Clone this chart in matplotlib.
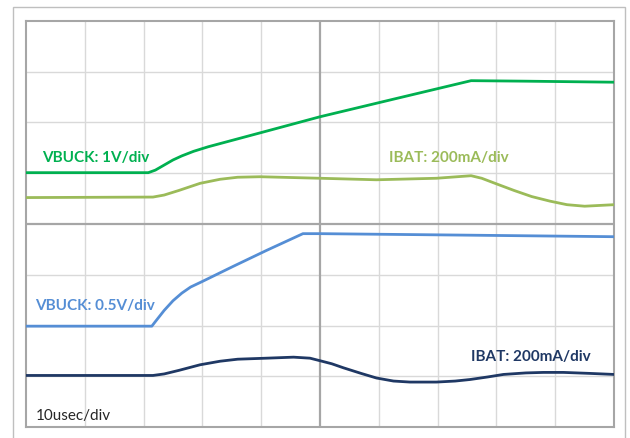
import matplotlib
matplotlib.use("Agg")
import matplotlib.pyplot as plt
from matplotlib.patches import Rectangle

# =====================================
# Traces, in scope divisions (10 x 8 grid)
# =====================================
vbuck1_t = [0.0, 2.08, 2.2, 2.35, 2.5, 2.65, 2.85, 3.1, 4.1, 5.0, 6.3, 7.57, 8.5, 10.0]
vbuck1_v = [5.01, 5.01, 5.06, 5.16, 5.26, 5.34, 5.43, 5.52, 5.83, 6.11, 6.47, 6.82, 6.81, 6.79]

ibat1_t = [0.0, 2.16, 2.35, 2.6, 2.96, 3.3, 3.6, 3.98, 5.0, 5.96, 6.98, 7.57, 7.75,
           8.0, 8.3, 8.6, 8.91, 9.2, 9.5, 10.0]
ibat1_v = [4.52, 4.53, 4.57, 4.66, 4.80, 4.88, 4.92, 4.93, 4.90, 4.87, 4.90, 4.95, 4.90,
           4.79, 4.66, 4.54, 4.45, 4.38, 4.35, 4.38]

vbuck2_t = [0.0, 2.14, 2.2, 2.35, 2.5, 2.65, 2.8, 3.0, 3.3, 3.53, 4.09, 4.71, 5.0, 7.55, 10.0]
vbuck2_v = [1.99, 1.99, 2.08, 2.30, 2.49, 2.64, 2.76, 2.87, 3.04, 3.17, 3.48, 3.81, 3.81,
            3.78, 3.75]

ibat2_t = [0.0, 2.16, 2.35, 2.6, 2.96, 3.3, 3.6, 4.09, 4.55, 4.83, 5.0, 5.2, 5.4, 5.7,
           5.96, 6.25, 6.53, 6.98, 7.3, 7.55, 7.85, 8.12, 8.5, 8.8, 9.14, 9.6, 10.0]
ibat2_v = [1.02, 1.02, 1.05, 1.12, 1.23, 1.30, 1.34, 1.36, 1.38, 1.36, 1.31, 1.25, 1.17,
           1.06, 0.97, 0.91, 0.89, 0.89, 0.91, 0.94, 0.99, 1.04, 1.07, 1.08, 1.08, 1.06, 1.04]

labels = ["VBUCK: 1V/div", "IBAT: 200mA/div", "VBUCK: 0.5V/div", "IBAT: 200mA/div"]
time_label = "10usec/div"

c_vbuck1 = "#00b050"
c_ibat1 = "#9bbb59"
c_vbuck2 = "#558ed5"
c_ibat2 = "#1f3864"

plt.rcParams['font.family'] = ['Lato', 'DejaVu Sans']

fig = plt.figure(figsize=(6.3, 4.38), dpi=100)
W, H = 630., 438.

# outer frame of the screenshot
fig.patches.append(Rectangle((13 / W, -0.05), 612 / W, 1.05 - 7 / H,
                             transform=fig.transFigure, fill=False,
                             ec="#bfbfbf", lw=1.0))

ax = fig.add_axes([26 / W, (H - 427.3) / H, 588 / W, 406.6 / H])
ax.set_xlim(0, 10)
ax.set_ylim(0, 8)
ax.set_xticks([])
ax.set_yticks([])
for s in ax.spines.values():
    s.set_color("#a6a6a6")
    s.set_linewidth(1.5)

# grid
for i in range(1, 10):
    if i == 5:
        ax.axvline(i, color="#a6a6a6", lw=1.6, zorder=1)
    else:
        ax.axvline(i, color="#d9d9d9", lw=1.0, zorder=0)
for j in range(1, 8):
    if j == 4:
        ax.axhline(j, color="#a6a6a6", lw=1.6, zorder=1)
    else:
        ax.axhline(j, color="#d9d9d9", lw=1.0, zorder=0)

kw = dict(lw=2.0, zorder=3, solid_joinstyle='round', solid_capstyle='butt')
ax.plot(vbuck1_t, vbuck1_v, color=c_vbuck1, **kw)
ax.plot(ibat1_t, ibat1_v, color=c_ibat1, **kw)
ax.plot(vbuck2_t, vbuck2_v, color=c_vbuck2, **kw)
ax.plot(ibat2_t, ibat2_v, color=c_ibat2, **kw)

fs = 11
ax.text(0.28, 5.30, labels[0], color=c_vbuck1, fontsize=fs, fontweight='bold', va='center')
ax.text(6.18, 5.30, labels[1], color=c_ibat1, fontsize=fs, fontweight='bold', va='center')
ax.text(0.16, 2.39, labels[2], color=c_vbuck2, fontsize=fs, fontweight='bold', va='center')
ax.text(7.56, 1.38, labels[3], color=c_ibat2, fontsize=fs, fontweight='bold', va='center')
ax.text(0.16, 0.22, time_label, color="#262626", fontsize=fs, va='center')

fig.savefig("out.png", dpi=100)
